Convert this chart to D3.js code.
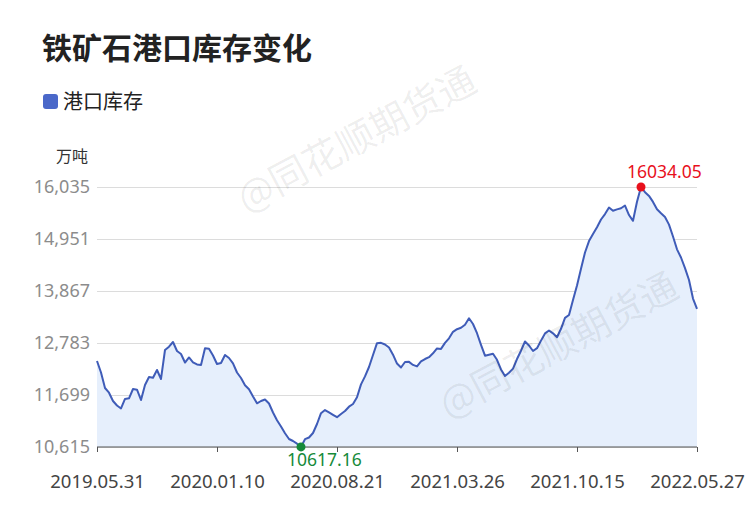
<!DOCTYPE html>
<html><head><meta charset="utf-8">
<script src="https://cdn.jsdelivr.net/npm/d3@7"></script>
<style>body{margin:0;background:#fff;}svg{display:block;}</style>
</head><body>
<div id="chart"></div>
<script>
const title = "铁矿石港口库存变化";
const seriesName = "港口库存";
const unitLabel = "万吨";
const values = [
12408,12168,11845,11747,11574,11480,11418,11616,11630,11824,
11810,11595,11907,12074,12060,12220,12033,12637,12706,12804,
12616,12554,12376,12481,12380,12335,12324,12673,12664,12522,
12345,12366,12533,12470,12360,12168,12053,11901,11818,11668,
11526,11574,11605,11522,11334,11172,11042,10901,10782,10740,
10684,10617.16,10778,10813,10907,11094,11320,11386,11338,11286,
11236,11303,11365,11455,11511,11651,11920,12087,12283,12533,
12779,12787,12752,12689,12539,12354,12272,12387,12390,12326,
12295,12399,12449,12487,12568,12670,12660,12785,12881,13016,
13071,13100,13164,13298,13179,12987,12745,12518,12539,12558,
12433,12231,12095,12164,12249,12449,12622,12814,12731,12616,
12675,12833,12983,13044,12985,12904,13079,13308,13367,13679,
13982,14330,14670,14907,15055,15197,15357,15470,15608,15539,
15568,15591,15649,15451,15330,15726,16034.05,15927,15849,15724,
15570,15487,15410,15251,15003,14736,14565,14344,14096,13709,
13496
];
const xTickLabels = ["2019.05.31","2020.01.10","2020.08.21","2021.03.26","2021.10.15","2022.05.27"];
const xTickIndex = [0,30,60,90,120,150];
const yTicks = [10615,11699,12783,13867,14951,16035];
const watermark = "@同花顺期货通";

const W = 750, H = 510;
const m = {left:97, right:53, top:187, bottom:63};
const font = "'Noto Sans CJK SC','Noto Sans',sans-serif";
const numFont = "'Noto Sans','Noto Sans CJK SC',sans-serif";

const svg = d3.select("#chart").append("svg").attr("width",W).attr("height",H)
  .style("font-family",font);

const x = d3.scaleLinear().domain([0, values.length-1]).range([m.left, W-m.right]);
const y = d3.scaleLinear().domain([yTicks[0], yTicks[yTicks.length-1]]).range([H-m.bottom, m.top]);

// title
svg.append("text").attr("x",42).attr("y",59).attr("font-size",30).attr("font-weight","bold")
  .attr("fill","#222").text(title);
// legend
svg.append("rect").attr("x",43).attr("y",94).attr("width",15).attr("height",15).attr("rx",3)
  .attr("fill","#4a68c9");
svg.append("text").attr("x",63).attr("y",109).attr("font-size",20).attr("fill","#222").text(seriesName);
// unit
svg.append("text").attr("x",88).attr("y",162).attr("text-anchor","end").attr("font-size",16)
  .attr("fill","#333").text(unitLabel);

// grid
const yAxis = d3.axisLeft(y).tickValues(yTicks).tickSize(-(W-m.left-m.right)).tickPadding(7)
  .tickFormat(d3.format(","));
const gy = svg.append("g").attr("transform",`translate(${m.left},0)`).call(yAxis);
gy.select(".domain").remove();
gy.selectAll(".tick line").attr("stroke","#dcdcdc");
gy.selectAll(".tick text").attr("font-size",18).attr("fill","#8c8c8c").attr("font-family",numFont);

// area + line
const area = d3.area().x((d,i)=>x(i)).y0(y(yTicks[0])).y1(d=>y(d));
svg.append("path").datum(values).attr("d",area).attr("fill","#e6effc");
const line = d3.line().x((d,i)=>x(i)).y(d=>y(d));
svg.append("path").datum(values).attr("d",line).attr("fill","none").attr("stroke","#3f5cb8")
  .attr("stroke-width",2).attr("stroke-linejoin","round");

// x axis
const xAxis = d3.axisBottom(x).tickValues(xTickIndex).tickSize(5).tickPadding(23)
  .tickFormat((d,i)=>xTickLabels[i]);
const gx = svg.append("g").attr("transform",`translate(0,${H-m.bottom})`).call(xAxis);
gx.select(".domain").attr("stroke","#555").attr("d",`M${m.left},0H${W-m.right}`);
gx.selectAll(".tick line").attr("stroke","#555");
gx.selectAll(".tick text").attr("font-size",18.5).attr("fill","#444").attr("font-family",numFont);

// watermarks
[[358,142],[560,348]].forEach(p=>{
  svg.append("text").attr("transform",`translate(${p[0]},${p[1]}) rotate(-28)`)
    .attr("text-anchor","middle").attr("dominant-baseline","middle")
    .attr("font-size",38).attr("fill","#000").attr("fill-opacity",0.07).text(watermark);
});

// max / min markers
const maxI = d3.maxIndex(values), minI = d3.minIndex(values);
svg.append("circle").attr("cx",x(maxI)).attr("cy",y(values[maxI])).attr("r",4.5).attr("fill","#e8101c");
svg.append("text").attr("x",x(maxI)-14).attr("y",y(values[maxI])-9).attr("font-size",17.5)
  .attr("font-family",numFont).attr("fill","#e8101c").text(values[maxI].toFixed(2));
svg.append("circle").attr("cx",x(minI)).attr("cy",y(values[minI])).attr("r",4.5).attr("fill","#168a3a");
svg.append("text").attr("x",x(minI)-14).attr("y",y(values[minI])+19).attr("font-size",17.5)
  .attr("font-family",numFont).attr("fill","#168a3a").text(values[minI].toFixed(2));
</script>
</body></html>
